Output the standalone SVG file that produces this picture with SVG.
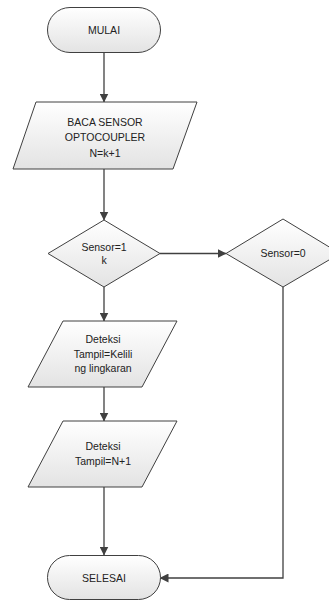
<svg xmlns="http://www.w3.org/2000/svg" width="329" height="601" viewBox="0 0 329 601">
<defs>
<linearGradient id="g" x1="0" y1="0" x2="0" y2="1">
<stop offset="0" stop-color="#ffffff"/>
<stop offset="1" stop-color="#e3e3e3"/>
</linearGradient>
<marker id="ah" markerWidth="9" markerHeight="9" refX="8.5" refY="4.5" orient="auto" markerUnits="userSpaceOnUse">
<path d="M0,0 L9,4.5 L0,9 Z" fill="#404040"/>
</marker>
</defs>
<style>
.s{fill:url(#g);stroke:#404040;stroke-width:1}
.t{font-family:"Liberation Sans",Arial,sans-serif;font-size:10.5px;fill:#222;text-anchor:middle}
.c{fill:none;stroke:#404040;stroke-width:1.3;marker-end:url(#ah)}
</style>
<rect width="329" height="601" fill="#ffffff"/>
<g id="connectors">
<path class="c" d="M104,52 V102"/>
<path class="c" d="M104,169 V220"/>
<path class="c" d="M160,253.5 H226"/>
<path class="c" d="M104,287 V321"/>
<path class="c" d="M104,387 V421"/>
<path class="c" d="M104,487 V555"/>
<path class="c" d="M283,287 V578 H160"/>
</g>
<g id="mulai">
<rect class="s" x="47.5" y="7.5" width="113" height="45" rx="22.5" ry="22.5"/>
<text class="t" x="104" y="34">MULAI</text>
</g>
<g id="baca">
<polygon class="s" points="36,102 197,102 173,169 13,169"/>
<text class="t" x="105" y="125.5">BACA SENSOR</text>
<text class="t" x="105" y="141">OPTOCOUPLER</text>
<text class="t" x="105" y="156.5">N=k+1</text>
</g>
<g id="sensor1">
<polygon class="s" points="104,220 160,253.5 104,287 48,253.5"/>
<text class="t" x="104" y="251">Sensor=1</text>
<text class="t" x="104" y="263.5">k</text>
</g>
<g id="sensor0">
<polygon class="s" points="283,219 340,253.5 283,287 226,253.5"/>
<text class="t" x="283" y="257">Sensor=0</text>
</g>
<g id="deteksi1">
<polygon class="s" points="63,321 177,321 142,387 28,387"/>
<text class="t" x="103" y="343">Deteksi</text>
<text class="t" x="103" y="357.5">Tampil=Kelili</text>
<text class="t" x="103" y="372">ng lingkaran</text>
</g>
<g id="deteksi2">
<polygon class="s" points="63,421 177,421 142,487 28,487"/>
<text class="t" x="103" y="450">Deteksi</text>
<text class="t" x="103" y="465">Tampil=N+1</text>
</g>
<g id="selesai">
<rect class="s" x="47.5" y="555.5" width="113" height="44" rx="22" ry="22"/>
<text class="t" x="104" y="582">SELESAI</text>
</g>
</svg>
